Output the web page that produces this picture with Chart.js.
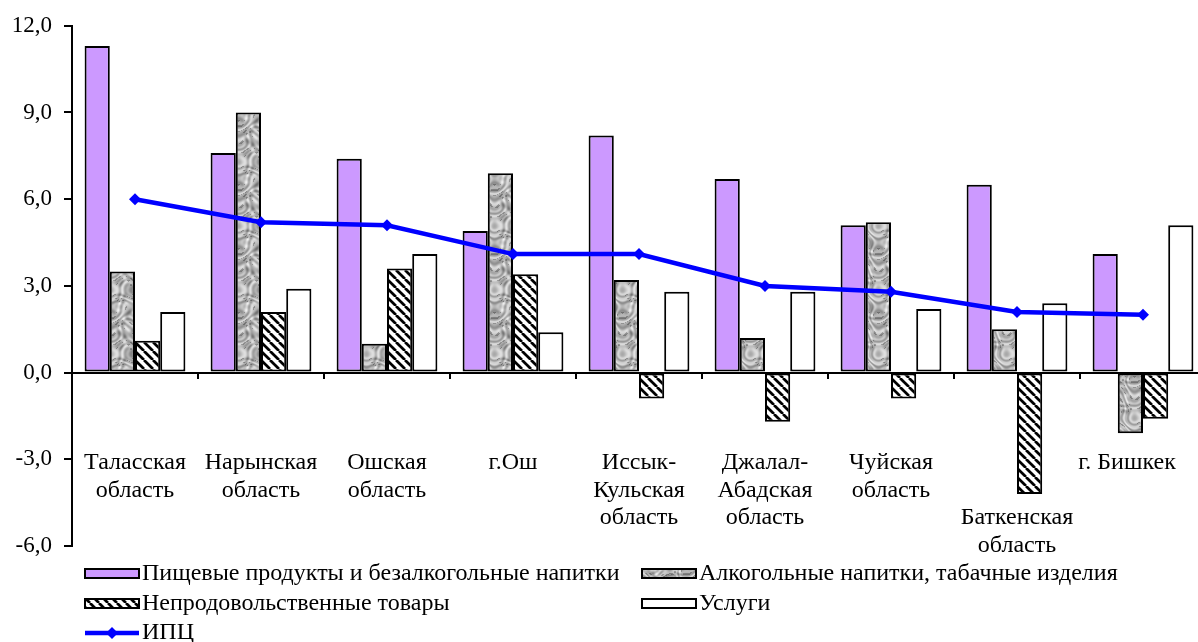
<!DOCTYPE html>
<html><head><meta charset="utf-8">
<script src="https://cdn.jsdelivr.net/npm/chart.js@4.4.0/dist/chart.umd.min.js"></script>
<style>
html,body{margin:0;padding:0;background:#fff;overflow:hidden;width:1198px;height:642px}
#wrap{position:absolute;left:0;top:0;width:1212px;height:642px}
</style></head><body><div id="wrap"><canvas id="c"></canvas></div>
<script>
// regions (category labels, split into lines as in the picture)
const REGIONS = [
  ['Таласская', 'область'], ['Нарынская', 'область'], ['Ошская', 'область'], ['г.Ош'],
  ['Иссык-', 'Кульская', 'область'], ['Джалал-', 'Абадская', 'область'], ['Чуйская', 'область'],
  ['Баткенская', 'область'], ['г. Бишкек']
];
const FOOD     = [11.3, 7.6, 7.4, 4.9, 8.2, 6.7, 5.1, 6.5, 4.1];
const ALCOHOL  = [3.5, 9.0, 1.0, 6.9, 3.2, 1.2, 5.2, 1.5, -2.1];
const NONFOOD  = [1.1, 2.1, 3.6, 3.4, -0.9, -1.7, -0.9, -4.2, -1.6];
const SERVICES = [2.1, 2.9, 4.1, 1.4, 2.8, 2.8, 2.2, 2.4, 5.1];
const CPI      = [6.0, 5.2, 5.1, 4.1, 4.1, 3.0, 2.8, 2.1, 2.0];
const Y_TICKS  = [-6, -3, 0, 3, 6, 9, 12];
const NAMES = ['Пищевые продукты и безалкогольные напитки', 'Алкогольные напитки, табачные изделия',
               'Непродовольственные товары', 'Услуги', 'ИПЦ'];

const FONT = '"Liberation Serif", "Times New Roman", serif';
const LABEL_ROW0 = [0, 0, 0, 0, 0, 0, 0, 2, 0];    // Баткенская sits two lines lower
const LABEL_SHIFT = [0, 0, 0, 0, 0, 0, 0, 0, -16]; // Бишкек pulled in from the edge

// ---- fill patterns ----
function hatch() {
  const c = document.createElement('canvas'); c.width = 9; c.height = 9;
  const g = c.getContext('2d');
  g.fillStyle = '#fff'; g.fillRect(0, 0, 9, 9);
  g.strokeStyle = '#000'; g.lineWidth = 2.7;
  for (let x = -9; x <= 9; x += 9) { g.beginPath(); g.moveTo(x, 0); g.lineTo(x + 9, 9); g.stroke(); }
  return g.createPattern(c, 'repeat');
}
function marble() {   // mottled grey, a few warped sine waves so it tiles
  const n = 64, c = document.createElement('canvas'); c.width = n; c.height = n;
  const g = c.getContext('2d'), img = g.createImageData(n, n);
  const k = 2 * Math.PI / n;
  for (let y = 0; y < n; y++) for (let x = 0; x < n; x++) {
    const wx = x * k + 0.8 * Math.sin(2 * y * k + 1.3) + 0.4 * Math.cos(3 * x * k);
    const wy = y * k + 0.8 * Math.cos(2 * x * k + 0.4) + 0.4 * Math.sin(3 * y * k);
    const a = Math.sin(3 * wx + 1) * Math.sin(4 * wy);
    const b = Math.cos(6 * wx - 5 * wy) * 0.5 + Math.sin(7 * wy + 2 * wx) * 0.4;
    let v = 178 + 40 * a + 28 * b;
    if (a * b < -0.3) v -= 45;
    v = Math.max(85, Math.min(238, v));
    const i = (y * n + x) * 4;
    img.data[i] = img.data[i + 1] = img.data[i + 2] = v; img.data[i + 3] = 255;
  }
  g.putImageData(img, 0, 0);
  return g.createPattern(c, 'repeat');
}
const ctx = document.getElementById('c').getContext('2d');
const HATCH = hatch(), MARBLE = marble();
const FILLS = ['#CC99FF', MARBLE, HATCH, '#FFFFFF'];

// ---- axis line at zero, category labels, legend ----
const decor = {
  id: 'decor',
  afterDatasetsDraw(chart) {
    const { ctx: g, scales: { y }, chartArea: a } = chart;
    const y0 = Math.round(y.getPixelForValue(0));
    g.save();
    g.strokeStyle = '#000'; g.lineWidth = 2;
    g.beginPath(); g.moveTo(a.left, y0); g.lineTo(a.right + 20, y0); g.stroke();
    const w = (a.right - a.left) / REGIONS.length;
    for (let i = 1; i <= REGIONS.length; i++) {
      const px = Math.round(a.left + i * w);
      g.beginPath(); g.moveTo(px, y0); g.lineTo(px, y0 + 6); g.stroke();
    }
    g.restore();
  },
  afterDraw(chart) {
    const { ctx: g, scales: { x } } = chart;
    g.save();
    g.fillStyle = '#000'; g.font = '24px ' + FONT; g.textAlign = 'center'; g.textBaseline = 'middle';
    REGIONS.forEach((lines, i) => {
      const cx = x.getPixelForValue(i) + LABEL_SHIFT[i];
      lines.forEach((t, j) => g.fillText(t, cx, 463 + (LABEL_ROW0[i] + j) * 27.5));
    });
    // legend
    const cols = [85, 642], rows = [574, 604, 633], sw = 54;
    const slots = [[0, 0], [1, 0], [0, 1], [1, 1], [0, 2]];
    g.textAlign = 'left';
    slots.forEach(([c, r], k) => {
      const lx = cols[c], ly = rows[r];
      if (k < 4) {
        g.fillStyle = FILLS[k]; g.fillRect(lx, ly - 5, sw, 9);
        g.strokeStyle = '#000'; g.lineWidth = 2; g.strokeRect(lx, ly - 5, sw, 9);
      } else {
        g.strokeStyle = '#0000FF'; g.lineWidth = 4.5;
        g.beginPath(); g.moveTo(lx, ly); g.lineTo(lx + sw, ly); g.stroke();
        g.fillStyle = '#0000FF'; g.beginPath();
        g.moveTo(lx + sw / 2, ly - 6); g.lineTo(lx + sw / 2 + 6, ly); g.lineTo(lx + sw / 2, ly + 6); g.lineTo(lx + sw / 2 - 6, ly); g.fill();
      }
      g.fillStyle = '#000';
      g.fillText(NAMES[k], lx + sw + 3, ly);
    });
    g.restore();
  }
};

const barSet = (label, data, k) => ({
  type: 'bar', label, data, backgroundColor: FILLS[k], borderColor: '#000', borderWidth: 2,
  borderSkipped: false, order: 2
});

new Chart(ctx, {
  data: {
    labels: REGIONS.map(r => r.join(' ')),
    datasets: [
      { type: 'line', label: NAMES[4], data: CPI, borderColor: '#0000FF', backgroundColor: '#0000FF',
        borderWidth: 4.5, pointStyle: 'rectRot', pointRadius: 6, pointBorderWidth: 0, order: 0 },
      barSet(NAMES[0], FOOD, 0), barSet(NAMES[1], ALCOHOL, 1),
      barSet(NAMES[2], NONFOOD, 2), barSet(NAMES[3], SERVICES, 3)
    ]
  },
  options: {
    responsive: true, maintainAspectRatio: false, animation: false,
    layout: { padding: { top: 24, bottom: 96, left: 0, right: 0 } },
    datasets: { bar: { categoryPercentage: 0.8, barPercentage: 1 } },
    plugins: { legend: { display: false }, tooltip: { enabled: false } },
    scales: {
      x: { display: false, offset: true },
      y: {
        min: Y_TICKS[0], max: Y_TICKS[Y_TICKS.length - 1],
        afterBuildTicks: s => { s.ticks = Y_TICKS.map(v => ({ value: v })); },
        afterFit: s => { s.width = 72; },
        ticks: { callback: v => v.toFixed(1).replace('.', ','), color: '#000', padding: 12,
                 font: { family: FONT, size: 23 } },
        grid: { drawOnChartArea: false, tickLength: 8, color: '#000', lineWidth: 2 },
        border: { color: '#000', width: 2 }
      }
    }
  },
  plugins: [decor]
});
</script></body></html>
